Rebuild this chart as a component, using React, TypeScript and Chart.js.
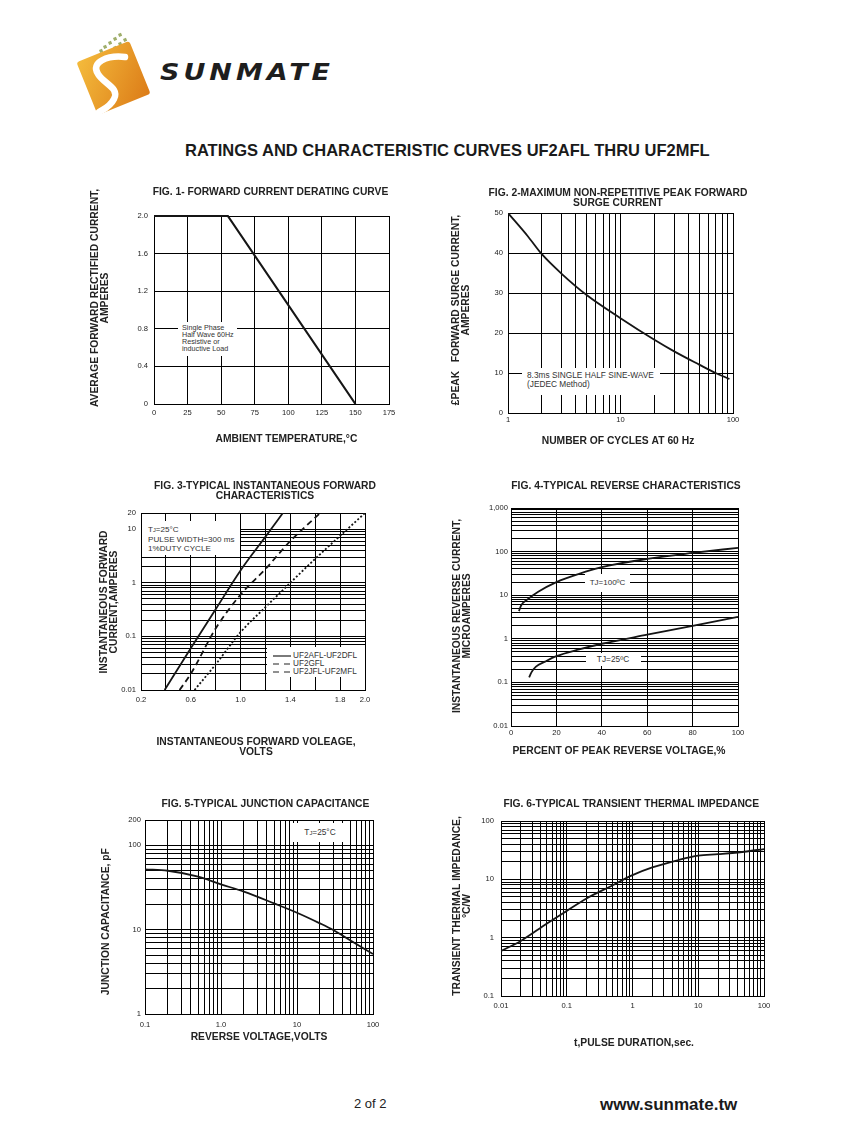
import React, { useEffect, useRef } from 'react';
import { Chart, registerables } from 'chart.js';

Chart.register(...registerables);

const FONT = '"Liberation Sans", Arial, Helvetica, sans-serif';

// ---------- Fig. 1 : forward current derating curve
const fig1Temperature = [0, 55, 150];
const fig1Current = [2.0, 2.0, 0];
const fig1XTicks = [0, 25, 50, 75, 100, 125, 150, 175];
const fig1XLabels = ['0', '25', '50', '75', '100', '125', '150', '175'];
const fig1YTicks = [0, 0.4, 0.8, 1.2, 1.6, 2.0];
const fig1YLabels = ['0', '0.4', '0.8', '1.2', '1.6', '2.0'];

// ---------- Fig. 2 : peak forward surge current
const fig2Cycles = [1, 1.5, 2, 3, 5, 10, 20, 30, 50, 70, 93];
const fig2Surge = [50, 44.2, 39.7, 34.8, 29.5, 23.7, 18.3, 15.4, 12.1, 10, 8.5];
const fig2XLabelVals = [1, 10, 100];
const fig2XLabels = ['1', '10', '100'];
const fig2YTicks = [0, 10, 20, 30, 40, 50];
const fig2YLabels = ['0', '10', '20', '30', '40', '50'];

// ---------- Fig. 3 : instantaneous forward characteristics
const fig3Series = ['UF2AFL-UF2DFL', 'UF2GFL', 'UF2JFL-UF2MFL'];
const fig3VoltsA = [0.39, 0.6, 0.8, 1.0, 1.2, 1.34];
const fig3AmpsA = [0.01, 0.06, 0.32, 1.7, 7.2, 20];
const fig3VoltsG = [0.51, 0.6, 0.8, 1.0, 1.2, 1.4, 1.64];
const fig3AmpsG = [0.01, 0.02, 0.14, 0.6, 1.8, 6, 20];
const fig3VoltsJ = [0.63, 0.8, 1.0, 1.2, 1.4, 1.6, 1.8, 2.0];
const fig3AmpsJ = [0.01, 0.03, 0.12, 0.35, 1.0, 2.8, 7.5, 20];
const fig3XTicks = [0.2, 0.4, 0.6, 0.8, 1.0, 1.2, 1.4, 1.6, 1.8, 2.0];
const fig3XLabelVals = [0.2, 0.6, 1.0, 1.4, 1.8, 2.0];
const fig3XLabels = ['0.2', '0.6', '1.0', '1.4', '1.8', '2.0'];
const fig3YLabelVals = [0.01, 0.1, 1, 10, 20];
const fig3YLabels = ['0.01', '0.1', '1', '10', '20'];

// ---------- Fig. 4 : reverse characteristics
const fig4PctHot = [3.5, 4.5, 7, 12, 20, 30, 40, 60, 80, 100];
const fig4CurHot = [4.3, 5.9, 7.8, 12, 20, 31, 44, 68, 93, 122];
const fig4PctCold = [8, 9, 11, 15, 20, 30, 40, 60, 80, 100];
const fig4CurCold = [0.13, 0.17, 0.23, 0.3, 0.4, 0.57, 0.77, 1.24, 1.97, 3.2];
const fig4XTicks = [0, 20, 40, 60, 80, 100];
const fig4XLabels = ['0', '20', '40', '60', '80', '100'];
const fig4YLabelVals = [0.01, 0.1, 1, 10, 100, 1000];
const fig4YLabels = ['0.01', '0.1', '1', '10', '100', '1,000'];

// ---------- Fig. 5 : junction capacitance
const fig5Volts = [0.1, 0.2, 0.5, 1, 2, 5, 10, 20, 30, 50, 100];
const fig5Cap = [52, 50, 42.6, 34.5, 28.3, 20.5, 15.9, 11.9, 9.9, 7.5, 5.15];
const fig5XLabelVals = [0.1, 1, 10, 100];
const fig5XLabels = ['0.1', '1.0', '10', '100'];
const fig5YLabelVals = [1, 10, 100, 200];
const fig5YLabels = ['1', '10', '100', '200'];

// ---------- Fig. 6 : transient thermal impedance
const fig6Time = [0.01, 0.02, 0.05, 0.1, 0.2, 0.5, 1, 2, 5, 10, 20, 50, 100];
const fig6Imp = [0.59, 0.88, 1.75, 2.88, 4.7, 7.9, 11.8, 16, 21.4, 25.4, 27, 29.7, 33];
const fig6XLabelVals = [0.01, 0.1, 1, 10, 100];
const fig6XLabels = ['0.01', '0.1', '1', '10', '100'];
const fig6YLabelVals = [0.1, 1, 10, 100];
const fig6YLabels = ['0.1', '1', '10', '100'];

// ---------- helpers
function logGrid(min: number, max: number): number[] {
  const out: number[] = [];
  for (let e = Math.floor(Math.log10(min)); e <= Math.ceil(Math.log10(max)); e++) {
    for (let m = 1; m <= 9; m++) {
      const v = Number((m * Math.pow(10, e)).toPrecision(6));
      if (v >= min * 0.999999 && v <= max * 1.000001) out.push(v);
    }
  }
  return out;
}

function labelFor(vals: number[], labels: string[]) {
  return (v: any) => {
    const n = Number(v);
    const i = vals.findIndex((x) => Math.abs(x - n) <= Math.abs(x) * 1e-6 + 1e-12);
    return i >= 0 ? labels[i] : '';
  };
}

function series(xs: number[], ys: number[], extra: any = {}) {
  return {
    data: xs.map((x, i) => ({ x, y: ys[i] })),
    borderColor: '#151515',
    borderWidth: 1.8,
    pointRadius: 0,
    fill: false,
    cubicInterpolationMode: 'monotone',
    ...extra,
  };
}

type AxisSpec = {
  type: 'linear' | 'logarithmic';
  min: number;
  max: number;
  grid: number[];
  labelVals: number[];
  labels: string[];
  title: string[];
  pad: number;
};

type FigSpec = {
  plot: { l: number; t: number; r: number; b: number };
  title: string[];
  titlePos: { cx: number; cy: number };
  x: AxisSpec;
  y: AxisSpec;
  xTitlePos: { cx: number; cy: number };
  yTitlePos: { cx: number; cy: number };
  datasets: any[];
};

// draws the figure caption and the two axis titles at their places on the sheet
const figureTextPlugin = {
  id: 'figureTexts',
  afterDraw(chart: any, _args: any, o: any) {
    const ctx = chart.ctx as CanvasRenderingContext2D;
    ctx.save();
    ctx.fillStyle = '#222';
    ctx.font = `bold 10.3px ${FONT}`;
    ctx.textAlign = 'center';
    ctx.textBaseline = 'middle';
    (o.title as string[]).forEach((line, i) => ctx.fillText(line, o.tcx, o.tcy + i * o.lh));
    const xs: string[] = chart.scales.x.options.title.text;
    xs.forEach((line, i) => ctx.fillText(line, o.xcx, o.xcy + i * o.lh));
    const ys: string[] = chart.scales.y.options.title.text;
    ctx.translate(o.ycx, o.ycy);
    ctx.rotate(-Math.PI / 2);
    ys.forEach((line, i) => ctx.fillText(line, 0, i * o.lh));
    ctx.restore();
  },
};

function axisOptions(a: AxisSpec, isX: boolean, size: number) {
  return {
    type: a.type,
    min: a.min,
    max: a.max,
    afterBuildTicks: (s: any) => {
      s.ticks = a.grid.map((v) => ({ value: v }));
    },
    afterFit: (s: any) => {
      if (isX) s.height = size;
      else s.width = size;
    },
    grid: { color: '#000', lineWidth: 1, drawTicks: false },
    border: { display: true, color: '#000', width: 1 },
    ticks: {
      autoSkip: false,
      maxRotation: 0,
      minRotation: 0,
      padding: a.pad,
      color: '#222',
      font: { family: FONT, size: 7.6 },
      callback: labelFor(a.labelVals, a.labels),
    },
    title: { display: false, text: a.title },
  };
}

function Figure({ spec }: { spec: FigSpec }) {
  const ref = useRef<HTMLCanvasElement>(null);
  const padRight = 20;
  const lh = 10;
  const canvasLeft = Math.floor(spec.yTitlePos.cx - 7);
  const canvasTop = Math.floor(spec.titlePos.cy - 8);
  const xLastY = spec.xTitlePos.cy + (spec.x.title.length - 1) * lh;
  const canvasBottom = Math.round(xLastY + lh / 2 + 3);
  const canvasRight = Math.max(spec.plot.r + padRight, Math.ceil(spec.titlePos.cx + 140));
  const W = canvasRight - canvasLeft;
  const H = canvasBottom - canvasTop;
  const yWidth = spec.plot.l - canvasLeft;
  const xHeight = canvasBottom - spec.plot.b;
  const padTop = spec.plot.t - canvasTop;
  const padR = canvasRight - spec.plot.r;

  useEffect(() => {
    const chart = new Chart(ref.current as HTMLCanvasElement, {
      type: 'line',
      data: { datasets: spec.datasets },
      options: {
        animation: false,
        responsive: false,
        devicePixelRatio: 1,
        layout: { padding: { top: padTop, right: padR, bottom: 0, left: 0 } },
        plugins: {
          legend: { display: false },
          tooltip: { enabled: false },
          title: { display: false },
          figureTexts: {
            title: spec.title,
            tcx: spec.titlePos.cx - canvasLeft,
            tcy: spec.titlePos.cy - canvasTop,
            xcx: spec.xTitlePos.cx - canvasLeft,
            xcy: spec.xTitlePos.cy - canvasTop,
            ycx: spec.yTitlePos.cx - canvasLeft,
            ycy: spec.yTitlePos.cy - canvasTop,
            lh,
          },
        },
        scales: {
          x: axisOptions(spec.x, true, xHeight),
          y: axisOptions(spec.y, false, yWidth),
        },
      } as any,
      plugins: [figureTextPlugin as any],
    });
    return () => chart.destroy();
  }, []);

  return (
    <canvas
      ref={ref}
      width={W}
      height={H}
      style={{ position: 'absolute', left: canvasLeft, top: canvasTop, width: W, height: H }}
    />
  );
}

// ---------- figure specifications
const fig1: FigSpec = {
  plot: { l: 154, t: 216, r: 389, b: 404 },
  title: ['FIG. 1- FORWARD CURRENT DERATING CURVE'],
  titlePos: { cx: 270.5, cy: 191.7 },
  x: { type: 'linear', min: 0, max: 175, grid: fig1XTicks, labelVals: fig1XTicks, labels: fig1XLabels, title: ['AMBIENT TEMPERATURE,°C'], pad: 4 },
  y: { type: 'linear', min: 0, max: 2, grid: fig1YTicks, labelVals: fig1YTicks, labels: fig1YLabels, title: ['AVERAGE FORWARD RECTIFIED CURRENT,', 'AMPERES'], pad: 6 },
  xTitlePos: { cx: 286.5, cy: 439.3 },
  yTitlePos: { cx: 95, cy: 298 },
  datasets: [series(fig1Temperature, fig1Current, { cubicInterpolationMode: 'default', tension: 0, borderWidth: 2.2, clip: false })],
};

const fig2: FigSpec = {
  plot: { l: 508, t: 213, r: 733, b: 413 },
  title: ['FIG. 2-MAXIMUM NON-REPETITIVE PEAK FORWARD', 'SURGE CURRENT'],
  titlePos: { cx: 618, cy: 193.3 },
  x: { type: 'logarithmic', min: 1, max: 100, grid: logGrid(1, 100), labelVals: fig2XLabelVals, labels: fig2XLabels, title: ['NUMBER OF CYCLES AT 60 Hz'], pad: 2 },
  y: { type: 'linear', min: 0, max: 50, grid: fig2YTicks, labelVals: fig2YTicks, labels: fig2YLabels, title: ['£PEAK   FORWARD SURGE CURRENT,', 'AMPERES'], pad: 5 },
  xTitlePos: { cx: 618, cy: 440.7 },
  yTitlePos: { cx: 456.3, cy: 310 },
  datasets: [series(fig2Cycles, fig2Surge)],
};

const fig3: FigSpec = {
  plot: { l: 141, t: 513, r: 365, b: 690 },
  title: ['FIG. 3-TYPICAL INSTANTANEOUS FORWARD', 'CHARACTERISTICS'],
  titlePos: { cx: 265, cy: 485.7 },
  x: { type: 'linear', min: 0.2, max: 2.0, grid: fig3XTicks, labelVals: fig3XLabelVals, labels: fig3XLabels, title: ['INSTANTANEOUS FORWARD VOLEAGE,', 'VOLTS'], pad: 5 },
  y: { type: 'logarithmic', min: 0.01, max: 20, grid: logGrid(0.01, 20), labelVals: fig3YLabelVals, labels: fig3YLabels, title: ['INSTANTANEOUS FORWARD', 'CURRENT,AMPERES'], pad: 5 },
  xTitlePos: { cx: 256, cy: 741.7 },
  yTitlePos: { cx: 104, cy: 602 },
  datasets: [
    series(fig3VoltsA, fig3AmpsA, { label: fig3Series[0] }),
    series(fig3VoltsG, fig3AmpsG, { label: fig3Series[1], borderDash: [6, 4] }),
    series(fig3VoltsJ, fig3AmpsJ, { label: fig3Series[2], borderDash: [2, 2] }),
  ],
};

const fig4: FigSpec = {
  plot: { l: 511, t: 508, r: 738, b: 726 },
  title: ['FIG. 4-TYPICAL REVERSE CHARACTERISTICS'],
  titlePos: { cx: 626, cy: 485.7 },
  x: { type: 'linear', min: 0, max: 100, grid: fig4XTicks, labelVals: fig4XTicks, labels: fig4XLabels, title: ['PERCENT OF PEAK REVERSE VOLTAGE,%'], pad: 2 },
  y: { type: 'logarithmic', min: 0.01, max: 1000, grid: logGrid(0.01, 1000), labelVals: fig4YLabelVals, labels: fig4YLabels, title: ['INSTANTANEOUS REVERSE CURRENT,', 'MICROAMPERES'], pad: 3 },
  xTitlePos: { cx: 619, cy: 751 },
  yTitlePos: { cx: 457, cy: 616 },
  datasets: [series(fig4PctHot, fig4CurHot), series(fig4PctCold, fig4CurCold)],
};

const fig5: FigSpec = {
  plot: { l: 145, t: 820, r: 373, b: 1014 },
  title: ['FIG. 5-TYPICAL JUNCTION CAPACITANCE'],
  titlePos: { cx: 265.5, cy: 804 },
  x: { type: 'logarithmic', min: 0.1, max: 100, grid: logGrid(0.1, 100), labelVals: fig5XLabelVals, labels: fig5XLabels, title: ['REVERSE VOLTAGE,VOLTS'], pad: 6 },
  y: { type: 'logarithmic', min: 1, max: 200, grid: logGrid(1, 200), labelVals: fig5YLabelVals, labels: fig5YLabels, title: ['JUNCTION CAPACITANCE, pF'], pad: 4 },
  xTitlePos: { cx: 259, cy: 1037.3 },
  yTitlePos: { cx: 106, cy: 921.7 },
  datasets: [series(fig5Volts, fig5Cap)],
};

const fig6: FigSpec = {
  plot: { l: 501, t: 821, r: 764, b: 996 },
  title: ['FIG. 6-TYPICAL TRANSIENT THERMAL IMPEDANCE'],
  titlePos: { cx: 631.3, cy: 804 },
  x: { type: 'logarithmic', min: 0.01, max: 100, grid: logGrid(0.01, 100), labelVals: fig6XLabelVals, labels: fig6XLabels, title: ['t,PULSE DURATION,sec.'], pad: 5.5 },
  y: { type: 'logarithmic', min: 0.1, max: 100, grid: logGrid(0.1, 100), labelVals: fig6YLabelVals, labels: fig6YLabels, title: ['TRANSIENT THERMAL IMPEDANCE,', '°C/W'], pad: 7 },
  xTitlePos: { cx: 634, cy: 1043.3 },
  yTitlePos: { cx: 456.7, cy: 906 },
  datasets: [series(fig6Time, fig6Imp)],
};

// ---------- overlay boxes (white label boxes that break the grid)
function Box(props: { l: number; t: number; w: number; h: number; children?: any; style?: any }) {
  return (
    <div
      style={{
        position: 'absolute',
        left: props.l,
        top: props.t,
        width: props.w,
        height: props.h,
        background: '#fff',
        fontFamily: FONT,
        color: '#333',
        whiteSpace: 'nowrap',
        ...props.style,
      }}
    >
      {props.children}
    </div>
  );
}

const Tj = () => (
  <>
    T<span style={{ fontSize: '0.7em' }}>J</span>
  </>
);

function Logo() {
  const dots = [
    [118, 34], [123, 39], [113, 38], [118, 43], [108, 42], [113, 47], [103, 46], [99, 50],
  ];
  return (
    <svg width={847} height={130} style={{ position: 'absolute', left: 0, top: 0 }}>
      <defs>
        <linearGradient id="logoGrad" x1="0" y1="0" x2="1" y2="1">
          <stop offset="0" stopColor="#f4bb3c" />
          <stop offset="1" stopColor="#dc7c18" />
        </linearGradient>
      </defs>
      {dots.map(([x, y], i) => (
        <rect key={i} x={x} y={y} width={3.2} height={3.2} fill="#9fae6a" transform={`rotate(-22 ${x} ${y})`} />
      ))}
      <rect x={-28.5} y={-28.5} width={57} height={57} rx={3} fill="url(#logoGrad)" transform="translate(113.5 78) rotate(-22)" />
      <path
        d="M 125 57 C 108 55, 90 62, 98 74 C 104 84, 120 88, 114 99 C 110 107, 104 109, 99 112"
        stroke="#fff"
        strokeWidth={6.5}
        fill="none"
        strokeLinecap="round"
      />
    </svg>
  );
}

export default function App() {
  return (
    <div
      style={{
        position: 'absolute',
        left: 0,
        top: 0,
        width: 847,
        height: 1125,
        background: '#fff',
        overflow: 'hidden',
        fontFamily: FONT,
      }}
    >
      <Logo />
      <div
        style={{
          position: 'absolute',
          left: 160,
          top: 58,
          fontFamily: '"DejaVu Sans", sans-serif',
          fontWeight: 'bold',
          fontStyle: 'italic',
          fontSize: 27,
          lineHeight: '27px',
          letterSpacing: 4,
          color: '#1e1e1e',
          whiteSpace: 'nowrap',
          transform: 'scaleY(0.85)',
          transformOrigin: 'left center',
        }}
      >
        SUNMATE
      </div>

      <div
        style={{
          position: 'absolute',
          left: 185,
          top: 142,
          fontWeight: 'bold',
          fontSize: 16.5,
          lineHeight: '16.5px',
          color: '#1a1a1a',
          whiteSpace: 'nowrap',
        }}
      >
        RATINGS AND CHARACTERISTIC CURVES UF2AFL THRU UF2MFL
      </div>

      <Figure spec={fig1} />
      <Figure spec={fig2} />
      <Figure spec={fig3} />
      <Figure spec={fig4} />
      <Figure spec={fig5} />
      <Figure spec={fig6} />

      {/* Fig 1 note */}
      <Box l={178} t={322} w={59} h={34} style={{ fontSize: 7.2, lineHeight: '7px', paddingLeft: 4, paddingTop: 2, boxSizing: 'border-box' }}>
        <div>Single Phase</div>
        <div>Half Wave 60Hz</div>
        <div>Resistive or</div>
        <div>inductive Load</div>
      </Box>

      {/* Fig 2 note */}
      <Box l={522} t={368} w={138} h={27} style={{ fontSize: 8.3, lineHeight: '9px', paddingLeft: 5, paddingTop: 2.5, boxSizing: 'border-box' }}>
        <div>8.3ms SINGLE HALF SINE-WAVE</div>
        <div>(JEDEC Method)</div>
      </Box>

      {/* Fig 3 conditions */}
      <Box l={142} t={521} w={98} h={34} style={{ fontSize: 8.1, lineHeight: '9px', paddingLeft: 6, paddingTop: 3.5, boxSizing: 'border-box' }}>
        <div>
          <Tj />=25°C
        </div>
        <div>PULSE WIDTH=300 ms</div>
        <div>1%DUTY CYCLE</div>
      </Box>

      {/* Fig 3 legend */}
      <Box l={267} t={647} w={98} h={30} style={{ fontSize: 8.2, lineHeight: '8px' }}>
        {fig3Series.map((name, i) => (
          <div key={name} style={{ position: 'absolute', left: 0, top: 4.7 + i * 8, height: 8, width: 98 }}>
            <svg width={20} height={8} style={{ position: 'absolute', left: 6, top: 0 }}>
              <line
                x1={0}
                y1={4}
                x2={18}
                y2={4}
                stroke="#222"
                strokeWidth={1.2}
                strokeDasharray={i === 0 ? undefined : '6 5'}
              />
            </svg>
            <span style={{ position: 'absolute', left: 26, top: 0 }}>{name}</span>
          </div>
        ))}
      </Box>

      {/* Fig 4 labels */}
      <Box l={585} t={574} w={45} h={18} style={{ fontSize: 8, lineHeight: '18px', textAlign: 'center' }}>
        TJ=100ºC
      </Box>
      <Box l={585.5} t={653} w={55} h={13} style={{ fontSize: 8.3, lineHeight: '13px', textAlign: 'center' }}>
        TJ=25ºC
      </Box>

      {/* Fig 5 label */}
      <Box l={293} t={823} w={54} h={19} style={{ fontSize: 8.3, lineHeight: '19px', textAlign: 'center' }}>
        <Tj />=25°C
      </Box>

      <div style={{ position: 'absolute', left: 354, top: 1097, fontSize: 13, lineHeight: '13px', color: '#222' }}>2 of 2</div>
      <div
        style={{
          position: 'absolute',
          left: 600,
          top: 1095.5,
          fontSize: 17,
          lineHeight: '17px',
          fontWeight: 'bold',
          color: '#1a1a1a',
          whiteSpace: 'nowrap',
        }}
      >
        www.sunmate.tw
      </div>
    </div>
  );
}
